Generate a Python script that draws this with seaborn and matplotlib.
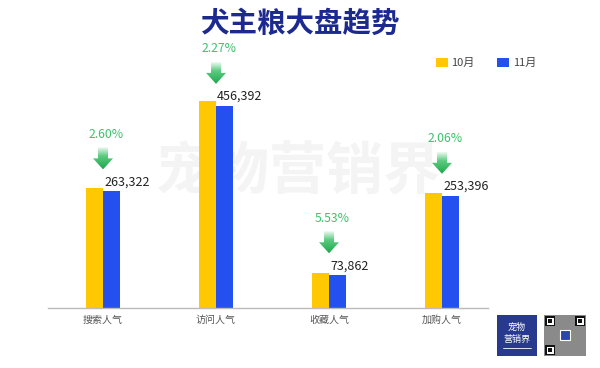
import numpy as np
import pandas as pd
import matplotlib
matplotlib.use("Agg")
import matplotlib.pyplot as plt
import seaborn as sns
from matplotlib.patches import Polygon, Rectangle
from matplotlib.colors import LinearSegmentedColormap

# data
categories = ["搜索人气", "访问人气", "收藏人气", "加购人气"]
oct_values = [270350, 467000, 78190, 258730]
nov_values = [263322, 456392, 73862, 253396]
drop_labels = ["2.60%", "2.27%", "5.53%", "2.06%"]
series_names = ["10月", "11月"]

sns.set_theme(style="white")
plt.rcParams["font.family"] = ["Noto Sans CJK SC", "DejaVu Sans"]

W, H = 600, 368
fig = plt.figure(figsize=(W / 100, H / 100), dpi=100)
fig.patch.set_facecolor("white")

ax = fig.add_axes([48 / W, 60 / H, 440 / W, 248 / H])
ax.patch.set_visible(False)

df = pd.DataFrame({
    "cat": categories * 2,
    "month": [series_names[0]] * 4 + [series_names[1]] * 4,
    "value": oct_values + nov_values,
})
sns.barplot(data=df, x="cat", y="value", hue="month", palette=["#ffc800", "#2450f0"],
            width=0.30, gap=0, saturation=1, ax=ax, errorbar=None, linewidth=0)

# uniform category spacing, axis line from px 48 to 488
ax.set_xlim(-0.487, 3.407)
ax.set_ylim(0, 560000)
ax.set_xlabel("")
ax.set_ylabel("")
ax.set_yticks([])
ax.tick_params(axis="x", length=0, pad=5, labelsize=7.2, labelcolor="#555555")
for s in ["top", "right", "left"]:
    ax.spines[s].set_visible(False)
ax.spines["bottom"].set_color("#bbbbbb")
ax.spines["bottom"].set_linewidth(1)

# legend
ax.legend(loc="upper left", bbox_to_anchor=(436 / W, 1 - 58 / H), bbox_transform=fig.transFigure,
          ncol=2, frameon=False, fontsize=8, handlelength=1.1, handleheight=0.8,
          handletextpad=0.3, columnspacing=2.0, borderpad=0, borderaxespad=0,
          labelcolor="#444444")

# title and watermark
fig.text(0.5, 1 - 24 / H, "犬主粮大盘趋势", ha="center", va="center", fontsize=20.5,
         fontweight="bold", color="#1c2a8f")
fig.text(298 / W, 1 - 172 / H, "宠物营销界", ha="center", va="center", fontsize=41,
         fontweight="bold", color="#f4f4f4", zorder=-1)

# overlay in pixel coords for annotations
ov = fig.add_axes([0, 0, 1, 1])
ov.set_xlim(0, W)
ov.set_ylim(H, 0)
ov.axis("off")
ov.patch.set_visible(False)

def to_px(x, y):
    dx, dy = ax.transData.transform((x, y))
    return dx, H - dy

green = LinearSegmentedColormap.from_list("g", [(0, "#eefaf1"), (0.4, "#5ccb80"), (1, "#1ea84c")])
grad = np.linspace(0, 1, 100).reshape(-1, 1)

for i, (v, lab) in enumerate(zip(nov_values, drop_labels)):
    cx, top = to_px(i, v)
    # value label, left aligned at blue bar
    ov.text(cx + 1, top - 3, f"{v:,}", ha="left", va="bottom", fontsize=9, color="#222222")
    # gradient arrow
    y0 = top - 44
    pts = [(cx - 5, y0), (cx + 5, y0), (cx + 5, y0 + 11), (cx + 10, y0 + 11),
           (cx, y0 + 22), (cx - 10, y0 + 11), (cx - 5, y0 + 11)]
    poly = Polygon(pts, closed=True, facecolor="none", edgecolor="none")
    ov.add_patch(poly)
    im = ov.imshow(grad, cmap=green, extent=(cx - 10, cx + 10, y0 + 22, y0), origin="upper",
                   aspect="auto", interpolation="bilinear")
    im.set_clip_path(poly)
    ov.text(cx + 3, top - 57, lab, ha="center", va="center", fontsize=8.8, color="#3dc26e")

# logo box and qr placeholder
ov.add_patch(Rectangle((497, 315), 40, 41, facecolor="#283a8e", edgecolor="none"))
ov.text(517, 327, "宠物", ha="center", va="center", fontsize=6.5, color="white")
ov.text(517, 339, "营销界", ha="center", va="center", fontsize=6.5, color="white")
ov.plot([503, 531], [348, 348], color="white", lw=0.6)
ov.add_patch(Rectangle((544, 315), 42, 41, facecolor="#8a8a8a", edgecolor="none"))
for qx, qy in [(545, 316), (575, 316), (545, 345)]:
    ov.add_patch(Rectangle((qx, qy), 10, 10, facecolor="#111111", edgecolor="none"))
    ov.add_patch(Rectangle((qx + 1.5, qy + 1.5), 7, 7, facecolor="white", edgecolor="none"))
    ov.add_patch(Rectangle((qx + 3, qy + 3), 4, 4, facecolor="#111111", edgecolor="none"))
ov.add_patch(Rectangle((560, 330), 10, 10, facecolor="#2a44b0", edgecolor="white", lw=0.8))

ov.set_xlim(0, W)
ov.set_ylim(H, 0)

fig.savefig("out.png", dpi=100)
